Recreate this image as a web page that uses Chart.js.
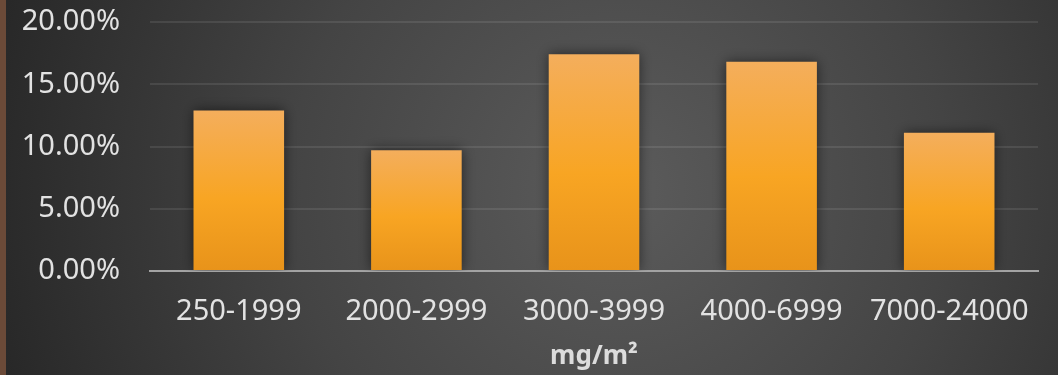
<!DOCTYPE html>
<html>
<head>
<meta charset="utf-8">
<script src="https://cdn.jsdelivr.net/npm/chart.js@4"></script>
<style>
  html, body { margin: 0; padding: 0; background: #2b2b2b; }
  #wrap { width: 1058px; height: 375px; position: relative; }
</style>
</head>
<body>
<div id="wrap"><canvas id="dose"></canvas></div>
<script>
var categories = ["250-1999", "2000-2999", "3000-3999", "4000-6999", "7000-24000"];
var shares = [12.9, 9.7, 17.4, 16.8, 11.1]; // percent of patients per dose band
var yTicks = [0, 5, 10, 15, 20];
var axisTitle = "mg/m\u00b2";

// dark radial backdrop with the brown edge strip on the left
var backdrop = {
  id: 'backdrop',
  beforeDraw: function(chart) {
    var c = chart.ctx, w = chart.width, h = chart.height;
    c.save();
    var g = c.createRadialGradient(620, 190, 20, 620, 190, 640);
    g.addColorStop(0, '#5a5a5a');
    g.addColorStop(0.5, '#444444');
    g.addColorStop(1, '#282828');
    c.fillStyle = g;
    c.fillRect(0, 0, w, h);
    c.fillStyle = '#6b4a38';
    c.fillRect(0, 0, 6, h);
    c.restore();
  }
};

// pull the plot top up so the 20% line sits near the top edge
var plotTop = {
  id: 'plotTop',
  afterLayout: function(chart) {
    var top = 22;
    var y = chart.scales.y;
    chart.chartArea.top = top;
    chart.chartArea.height = chart.chartArea.bottom - top;
    y.top = top;
    y.height = y.bottom - top;
    y.configure();
  }
};

// soft shadow behind the bars
var barShadow = {
  id: 'barShadow',
  beforeDatasetsDraw: function(chart) {
    var c = chart.ctx;
    c.save();
    c.shadowColor = 'rgba(0,0,0,0.55)';
    c.shadowBlur = 12;
    c.shadowOffsetX = 0;
    c.shadowOffsetY = 0;
  },
  afterDatasetsDraw: function(chart) {
    chart.ctx.restore();
  }
};

function barFill(context) {
  var chart = context.chart;
  if (!chart.chartArea) return '#f7a428';
  var y = chart.scales.y;
  var top = y.getPixelForValue(context.raw);
  var bottom = y.getPixelForValue(0);
  var g = chart.ctx.createLinearGradient(0, top, 0, bottom);
  g.addColorStop(0, '#f4ae5c');
  g.addColorStop(0.55, '#f8a523');
  g.addColorStop(1, '#e8931a');
  return g;
}

var ctx = document.getElementById('dose').getContext('2d');

var myChart = new Chart(ctx, {
  type: 'bar',
  data: {
    labels: categories,
    datasets: [{
      data: shares,
      backgroundColor: barFill,
      borderWidth: 0,
      categoryPercentage: 1,
      barPercentage: 0.51
    }]
  },
  options: {
    responsive: true,
    maintainAspectRatio: false,
    animation: false,
    events: [],
    layout: { autoPadding: false, padding: { top: 22, right: 20, left: 0, bottom: 0 } },
    plugins: {
      legend: { display: false },
      tooltip: { enabled: false }
    },
    scales: {
      x: {
        grid: { display: false, drawTicks: false },
        border: { display: true, color: '#a3a3a3', width: 2 },
        ticks: {
          color: '#e2e2e2',
          padding: 23,
          font: { family: 'Noto Sans', size: 29 }
        },
        title: {
          display: true,
          text: axisTitle,
          color: '#dcdcdc',
          font: { family: 'Noto Sans', size: 26, weight: 'bold' },
          padding: { top: 0, bottom: 3 }
        },
        afterFit: function(scale) { scale.height = 104; }
      },
      y: {
        min: 0,
        max: 20,
        afterBuildTicks: function(scale) {
          scale.ticks = yTicks.map(function(v) { return { value: v }; });
        },
        grid: { color: 'rgba(255,255,255,0.09)', lineWidth: 2, drawTicks: false },
        border: { display: false },
        ticks: {
          color: '#e2e2e2',
          padding: 30,
          font: { family: 'Noto Sans', size: 29 },
          callback: function(v) { return v.toFixed(2) + '%'; }
        },
        afterFit: function(scale) { scale.width = 150; }
      }
    }
  },
  plugins: [backdrop, plotTop, barShadow]
});
</script>
</body>
</html>
